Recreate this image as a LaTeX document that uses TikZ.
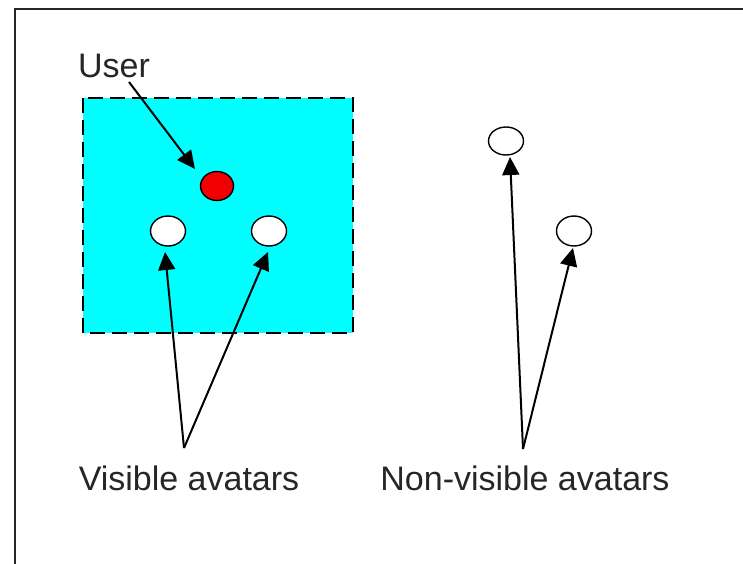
\documentclass[tikz,border=0pt]{standalone}
\usepackage{fontspec}
\setmainfont{Liberation Sans}
\usetikzlibrary{arrows.meta,shapes.geometric}
\definecolor{regioncyan}{RGB}{0,255,255}
\definecolor{userred}{RGB}{240,0,0}
\begin{document}
\begin{tikzpicture}[x=1pt,y=-1pt,
  avatar/.style={draw=black,line width=1.4pt,ellipse,inner sep=0pt,minimum width=35pt,minimum height=30pt,fill=white},
  label/.style={font=\fontsize{34}{40}\selectfont,text=black!85,inner sep=0pt},
  pointer/.style={draw=black,line width=2pt,-{Triangle[length=18pt,width=17pt]}}]
\useasboundingbox (0,0) rectangle (743,563);
\fill[white] (0,0) rectangle (743,563);
% outer frame (top and left edges)
\draw[line width=2.8pt,black!85] (15,570) -- (15,9) -- (750,9);
% visibility region
\fill[regioncyan] (83,98) rectangle (353,333);
\draw[line width=2.6pt,dash pattern=on 15pt off 7pt] (83,98) rectangle (353,333);
% avatars
\node[avatar,fill=userred,minimum width=33pt,minimum height=29pt] (user) at (217,186) {};
\node[avatar] (v1) at (168,231) {};
\node[avatar] (v2) at (269,231) {};
\node[avatar,minimum height=28pt] (n1) at (506,141) {};
\node[avatar] (n2) at (574,231) {};
% labels
\node[label] (ulab) at (114,66) {User};
\node[label] (vlab) at (189,478) {Visible avatars};
\node[label] (nlab) at (525,478) {Non-visible avatars};
\coordinate (us) at (129,82);
\coordinate (vs) at (184,448);
\coordinate (ns) at (523,449);
% pointers
\draw[pointer] (us) -- (195,169);
\draw[pointer] (vs) -- (165,252);
\draw[pointer] (vs) -- (268,252);
\draw[pointer] (ns) -- (510,157);
\draw[pointer] (ns) -- (573,248);
\end{tikzpicture}
\end{document}
